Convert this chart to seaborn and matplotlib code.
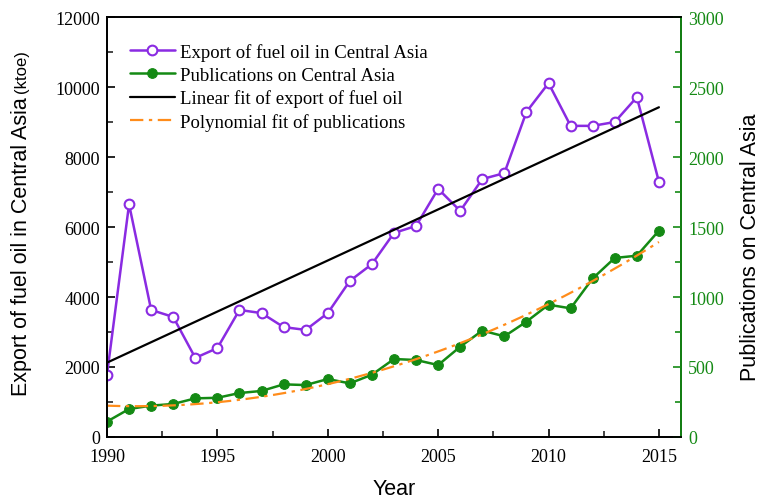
import numpy as np
import pandas as pd
import matplotlib
matplotlib.use("Agg")
import matplotlib.pyplot as plt
import seaborn as sns
from matplotlib.ticker import MultipleLocator

years = list(range(1990, 2016))
fuel_oil_export = [1780, 6650, 3630, 3430, 2260, 2540, 3630, 3540, 3140, 3060,
                   3540, 4460, 4940, 5830, 6030, 7090, 6460, 7370, 7540, 9290,
                   10110, 8890, 8890, 9000, 9710, 7290]
publications = [110, 200, 224, 236, 276, 280, 314, 329, 376, 371,
                 414, 383, 445, 557, 550, 514, 645, 760, 719, 824,
                 945, 919, 1133, 1279, 1295, 1474]

df = pd.DataFrame({"Year": years, "Export": fuel_oil_export, "Publications": publications})

# Fits: linear for the export series, quadratic for publications
lin = np.polyfit(df["Year"], df["Export"], 1)
poly = np.polyfit(df["Year"], df["Publications"], 2)
fit_x = np.linspace(1990, 2015, 200)
fit_df = pd.DataFrame({"Year": fit_x,
                       "Linear": np.polyval(lin, fit_x),
                       "Poly": np.polyval(poly, fit_x)})

sns.set_theme(style="white")
plt.rcParams["font.family"] = ["Liberation Serif", "DejaVu Serif"]
plt.rcParams["text.color"] = "black"
plt.rcParams["axes.labelcolor"] = "black"

PURPLE = "#8A2BE2"
GREEN = "#148A14"
ORANGE = "#FF8C1A"

fig = plt.figure(figsize=(7.62, 5.02), dpi=100)
ax = fig.add_axes([0.1404, 0.1275, 0.7533, 0.8366])
ax2 = ax.twinx()

sns.lineplot(data=df, x="Year", y="Export", ax=ax, color=PURPLE, lw=1.8,
             marker="o", markersize=7, markerfacecolor="white",
             markeredgecolor=PURPLE, markeredgewidth=1.5,
             label="Export of fuel oil in Central Asia", legend=False)
sns.lineplot(data=fit_df, x="Year", y="Linear", ax=ax, color="black", lw=1.6,
             label="Linear fit of export of fuel oil", legend=False)

sns.lineplot(data=df, x="Year", y="Publications", ax=ax2, color=GREEN, lw=1.8,
             marker="o", markersize=7, markerfacecolor=GREEN,
             markeredgecolor=GREEN,
             label="Publications on Central Asia", legend=False)
sns.lineplot(data=fit_df, x="Year", y="Poly", ax=ax2, color=ORANGE, lw=1.6,
             linestyle=(0, (6, 2.5, 1.5, 2.5)),
             label="Polynomial fit of publications", legend=False)

ax.set_xlim(1990, 2016)
ax.set_ylim(0, 12000)
ax2.set_ylim(0, 3000)

ax.xaxis.set_major_locator(MultipleLocator(5))
ax.xaxis.set_minor_locator(MultipleLocator(2.5))
ax.yaxis.set_major_locator(MultipleLocator(2000))
ax.yaxis.set_minor_locator(MultipleLocator(1000))
ax2.yaxis.set_major_locator(MultipleLocator(500))
ax2.yaxis.set_minor_locator(MultipleLocator(250))

for a in (ax, ax2):
    for s in a.spines.values():
        s.set_linewidth(1.3)
        s.set_color("black")
ax2.spines["right"].set_color(GREEN)

ax.tick_params(axis="both", which="major", direction="in", length=6, width=1.2,
               labelsize=13, colors="black", pad=5)
ax.tick_params(axis="x", which="major", pad=8)
ax.tick_params(axis="both", which="minor", direction="in", length=4, width=1.2)
ax.tick_params(axis="x", which="both", bottom=True)
ax.tick_params(axis="y", which="both", left=True)
ax2.tick_params(axis="y", which="major", direction="in", length=6, width=1.2,
                labelsize=13, colors=GREEN, pad=5, right=True)
ax2.tick_params(axis="y", which="minor", direction="in", length=4, width=1.2,
                colors=GREEN, right=True)

sans = ["Liberation Sans", "DejaVu Sans"]
ax.set_xlabel("Year", fontsize=15.5, family=sans, labelpad=9, color="black")
ylab = ax.set_ylabel("Export of fuel oil in Central Asia", fontsize=15.5,
                     family=sans, color="black")
ax.yaxis.set_label_coords(-0.131, 0.455)
ax.annotate("(ktoe)", xy=(0.5, 1.0), xycoords=ylab, xytext=(0, 3),
            textcoords="offset points", ha="center", va="bottom",
            rotation=90, fontsize=12, family=sans, color="black")
ax2.set_ylabel("Publications on Central Asia", fontsize=15.5, family=sans,
               color="black")
ax2.yaxis.set_label_coords(1.102, 0.455)

handles = []
labels = []
for a in (ax, ax2):
    h, l = a.get_legend_handles_labels()
    handles += h
    labels += l
order = [0, 2, 1, 3]
ax.legend([handles[i] for i in order], [labels[i] for i in order],
          loc="upper left", bbox_to_anchor=(0.02, 0.965), frameon=False,
          fontsize=13.5, handlelength=2.4, handletextpad=0.3, labelspacing=0.3,
          borderaxespad=0.2)

fig.savefig("out.png", dpi=100)
